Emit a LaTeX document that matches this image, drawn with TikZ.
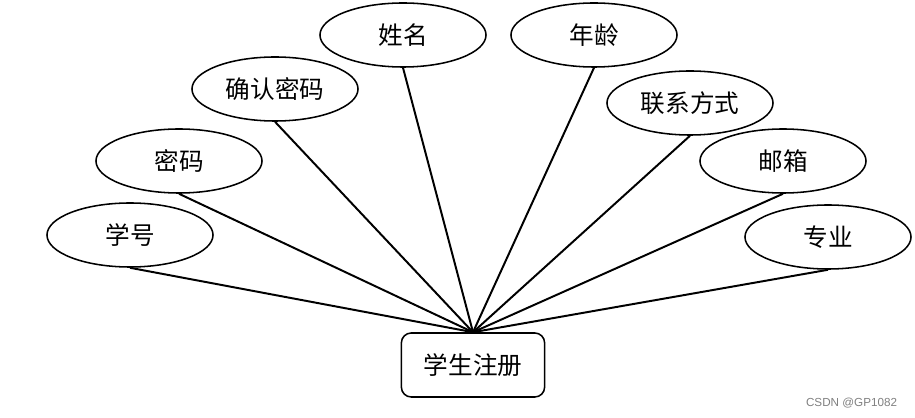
\documentclass[tikz,border=0pt]{standalone}
\usepackage{fontspec}
\newfontfamily\cjk{Noto Sans CJK SC}
\setsansfont{Liberation Sans}
\usetikzlibrary{shapes.geometric}
\begin{document}
\begin{tikzpicture}[
      x=0.025cm, y=-0.025cm,
      font=\cjk\fontsize{17.5}{20}\selectfont,
      attr/.style={draw, ellipse, line width=1.1pt, minimum width=4.15cm, minimum height=1.6cm, inner sep=0pt},
      entitaet/.style={draw, rounded corners=7pt, line width=1.1pt, minimum width=3.58cm, minimum height=1.6cm},
      linie/.style={line width=1.4pt}
    ]
      \useasboundingbox (0,0) rectangle (915,418);
      \node[entitaet] (reg) at (473,365) {学生注册};
      \node[attr] (xuehao) at (130,235) {学号};
      \node[attr] (mima) at (179,161) {密码};
      \node[attr] (queren) at (275,89) {确认密码};
      \node[attr] (xingming) at (403,35) {姓名};
      \node[attr] (nianling) at (594,35) {年龄};
      \node[attr] (lianxi) at (690,103) {联系方式};
      \node[attr] (youxiang) at (783,161) {邮箱};
      \node[attr] (zhuanye) at (828,237) {专业};
      \foreach \a in {xuehao,mima,queren,xingming,nianling,lianxi,youxiang,zhuanye}
        \draw[linie] (reg.north) -- (\a.south);
      \node[font=\sffamily\fontsize{8.3}{10}\selectfont, text=gray, anchor=east] (wasserzeichen) at (902,403) {CSDN @GP1082};
    \end{tikzpicture}
\end{document}
